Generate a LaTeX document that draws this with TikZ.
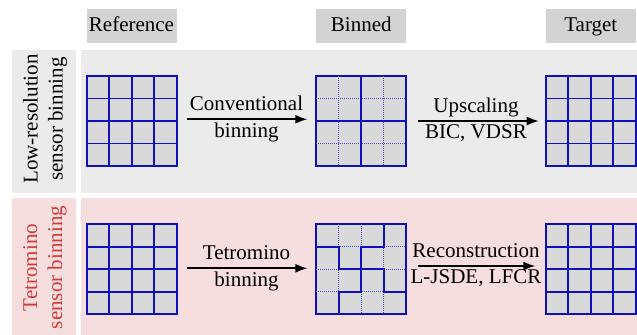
\documentclass[tikz,border=0pt]{standalone}
\usepackage{fontspec}
\setmainfont{Liberation Serif}
\usetikzlibrary{arrows.meta,calc}

\definecolor{headgray}{RGB}{211,211,211}
\definecolor{panelgray}{RGB}{235,235,235}
\definecolor{panelpink}{RGB}{246,221,222}
\definecolor{labelred}{RGB}{208,58,58}
\definecolor{cellgray}{RGB}{217,217,217}
\definecolor{gridblue}{RGB}{15,15,190}
\definecolor{dotblue}{RGB}{70,70,220}

% 4x4 pixel grid: all cell borders solid
\newcommand\fullgrid[1]{%
  \begin{scope}[shift={(#1.north west)}]
    \foreach \k in {22.5,45,67.5} {
      \draw[gridline] (\k,0) -- (\k,90);
      \draw[gridline] (0,\k) -- (90,\k);
    }
  \end{scope}}

\begin{document}
\begin{tikzpicture}[x=0.5pt,y=-0.5pt,
  font=\fontsize{10.5}{12.5}\selectfont,
  header/.style={fill=headgray, minimum width=45pt, minimum height=17pt,
    inner sep=0pt, outer sep=0pt, text height=1.5ex, text depth=0.25ex},
  gridbox/.style={draw=gridblue, fill=cellgray, line width=0.9pt,
    minimum width=45pt, minimum height=45pt, inner sep=0pt, outer sep=0pt},
  gridline/.style={draw=gridblue, line width=0.9pt},
  dotline/.style={draw=dotblue, line width=0.6pt, dash pattern=on 0.5pt off 0.5pt},
  rowlabel/.style={rotate=90, align=center, inner sep=0pt},
  arr/.style={line width=0.8pt, -{Latex[length=6pt,width=4.5pt]}},
  uplabel/.style={midway, anchor=base, yshift=4.4pt, inner sep=0pt},
  downlabel/.style={midway, anchor=base, yshift=-9pt, inner sep=0pt}]

\useasboundingbox (0,0) rectangle (637,335);

% column headers
\node[header] (hRef) at (131.5,26.2) {Reference};
\node[header] (hBin) at (361.3,26.2) {Binned};
\node[header] (hTgt) at (590.8,26.2) {Target};

% row backgrounds
\fill[panelgray] (12,50) rectangle (76,192.7);
\fill[panelgray] (80.7,50) rectangle (637,192.7);
\fill[panelpink] (12,198.3) rectangle (76,335);
\fill[panelpink] (80.7,198.3) rectangle (637,335);

% row titles
\node[rowlabel] (lab1) at (45,119) {Low-resolution\\sensor binning};
\node[rowlabel, text=labelred] (lab2) at (45,267.5) {Tetromino\\sensor binning};

% first row: conventional binning
\node[gridbox] (ref1) at (131.7,121) {};
\fullgrid{ref1}
\node[gridbox] (bin1) at (361.3,121) {};
\begin{scope}[shift={(bin1.north west)}]
  \foreach \k in {22.5,67.5} {
    \draw[dotline] (\k,0) -- (\k,90);
    \draw[dotline] (0,\k) -- (90,\k);
  }
  \draw[gridline] (45,0) -- (45,90);
  \draw[gridline] (0,45) -- (90,45);
\end{scope}
\node[gridbox] (tgt1) at (590.7,121) {};
\fullgrid{tgt1}

% second row: tetromino binning
\node[gridbox] (ref2) at (131.7,269.2) {};
\fullgrid{ref2}
\node[gridbox] (bin2) at (361.3,269.2) {};
\begin{scope}[shift={(bin2.north west)}, x=11.25pt, y=-11.25pt]
  \foreach \k in {1,2,3} {
    \draw[dotline] (\k,0) -- (\k,4);
    \draw[dotline] (0,\k) -- (4,\k);
  }
  % tetromino borders
  \draw[gridline] (0,1) -- (1,1) -- (1,2) -- (2,2) -- (2,1) -- (3,1) -- (3,0);
  \draw[gridline] (2,2) -- (3,2) -- (3,3) -- (4,3);
  \draw[gridline] (2,2) -- (2,3) -- (1,3) -- (1,4);
\end{scope}
\node[gridbox] (tgt2) at (590.7,269.2) {};
\fullgrid{tgt2}

% arrows with method labels
\draw[arr, shorten <=5.2pt, shorten >=4.5pt] ([yshift=0.85pt]ref1.east) -- ([yshift=0.85pt]bin1.west)
  node[uplabel] {Conventional} node[downlabel] {binning};
\draw[arr, shorten <=6pt, shorten >=3.5pt] (bin1.east) -- (tgt1.west)
  node[uplabel] {Upscaling} node[downlabel] {BIC, VDSR};
\draw[arr, shorten <=5.2pt, shorten >=4.5pt] ([yshift=0.45pt]ref2.east) -- ([yshift=0.45pt]bin2.west)
  node[uplabel] {Tetromino} node[downlabel] {binning};
\draw[arr, shorten <=6pt, shorten >=5.2pt] ([yshift=1.6pt]bin2.east) -- ([yshift=1.6pt]tgt2.west)
  node[uplabel] {Reconstruction} node[downlabel] {L-JSDE, LFCR};

\end{tikzpicture}
\end{document}
